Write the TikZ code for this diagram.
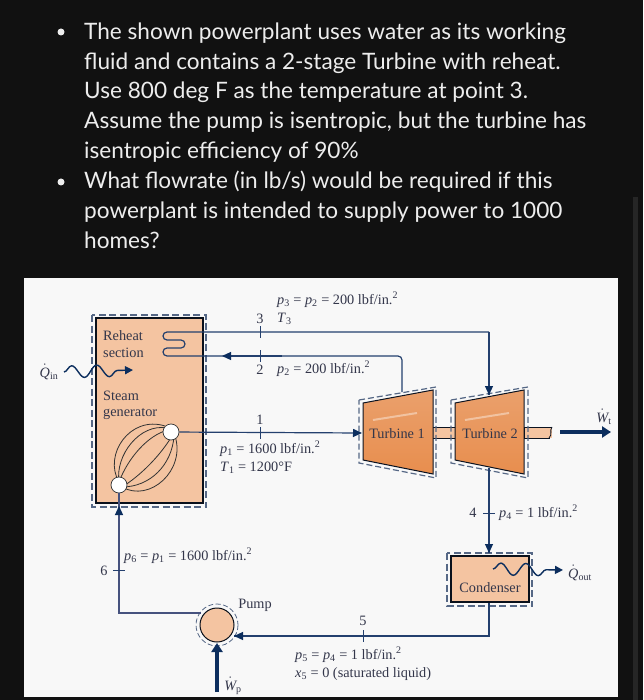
\documentclass[tikz,border=0pt]{standalone}
\usepackage{fontspec}
\setmainfont{Liberation Serif}
\newfontfamily\latofont{Lato}
\usetikzlibrary{arrows.meta,decorations.pathmorphing}
\definecolor{pagebg}{HTML}{111111}
\definecolor{panelink}{HTML}{33364A}
\definecolor{pipeblue}{HTML}{24406E}
\definecolor{feedblue}{HTML}{46527E}
\definecolor{tipblue}{HTML}{0C2E5E}
\definecolor{dashblue}{HTML}{566886}
\definecolor{unitfill}{HTML}{F4C4A1}
\definecolor{turbtop}{HTML}{EAA06C}
\definecolor{turbmid}{HTML}{EFAE80}
\definecolor{turbbot}{HTML}{E88E4E}
\newcommand{\pvar}[1]{\textit{p}\textsubscript{#1}}
\newcommand{\dotvar}[2]{$\dot{\mathit{#1}}$\textsubscript{#2}}
\newcommand{\unitpsi}{lbf/in.\textsuperscript{2}}
\tikzset{
  bodytext/.style={font=\latofont\fontsize{22.6}{30}\selectfont,text=white!93!black,anchor=base west,inner sep=0pt},
  bulletdot/.style={circle,fill=white!93!black,inner sep=0pt,minimum size=7pt},
  lbl/.style={font=\fontsize{14.3}{16}\selectfont,text=panelink,inner sep=0pt,anchor=base},
  lblw/.style={lbl,anchor=base west},
  unitbox/.style={fill=unitfill,draw=black!75!pipeblue,line width=1.1pt},
  dashbox/.style={draw=dashblue,line width=1.2pt,dash pattern=on 7pt off 3.5pt},
  pipe/.style={draw=pipeblue,line width=1.2pt},
  tick/.style={draw=pipeblue,line width=1pt},
  pipearrow/.style={pipe,-{Triangle[length=9pt,width=8pt,color=tipblue]}},
  powerarrow/.style={draw=tipblue,line width=3.8pt,-{Triangle[length=9pt,width=11pt]}},
  heatwave/.style={draw=tipblue,line width=1.4pt,decorate,
    decoration={snake,segment length=25pt,amplitude=6pt,post length=7pt}},
  turbine/.style={draw=black!70!pipeblue,line width=1pt,top color=turbtop,middle color=turbmid,bottom color=turbbot},
  gleam/.style={draw=white,opacity=0.4,line width=2pt},
  bundle/.style={draw=black!80,line width=0.8pt},
  header/.style={circle,fill=white,draw=black!80,line width=0.7pt,minimum size=16pt,inner sep=0pt},
}
\begin{document}
\begin{tikzpicture}[x=1pt,y=-1pt]
  \useasboundingbox (0,0) rectangle (643,700);
  \fill[pagebg] (0,0) rectangle (643,700);
  \fill[white!97!pagebg] (24,278) rectangle (618,697);
  \fill[black!85] (633,197) rectangle (638,700);
  % question text
  \node[bulletdot] (dota) at (61,32) {};
  \node[bulletdot] (dotb) at (61,182) {};
  \node[bodytext] (linea) at (84,40) {The shown powerplant uses water as its working};
  \node[bodytext] (lineb) at (84,69.5) {fluid and contains a 2-stage Turbine with reheat.};
  \node[bodytext] (linec) at (84,99) {Use 800 deg F as the temperature at point 3.};
  \node[bodytext] (lined) at (84,129) {Assume the pump is isentropic, but the turbine has};
  \node[bodytext] (linee) at (84,159) {isentropic efficiency of 90\%};
  \node[bodytext] (linef) at (84,189) {What flowrate (in lb/s) would be required if this};
  \node[bodytext] (lineg) at (84,219) {powerplant is intended to supply power to 1000};
  \node[bodytext] (lineh) at (84,249) {homes?};
  % steam generator
  \path[unitbox] (96,318) rectangle (203,503);
  \draw[dashbox] (92,315) rectangle (206,507);
  \node[lblw] (reheat) at (103,340) {Reheat};
  \node[lblw] (section) at (103,357) {section};
  \node[lblw] (steam) at (103,400) {Steam};
  \node[lblw] (generator) at (103,416) {generator};
  \draw[bundle] (119,482) .. controls (103,455) and (130,415) .. (165,426);
  \draw[bundle] (119,482) .. controls (115,455) and (140,423) .. (167,428);
  \draw[bundle] (119,482) .. controls (128,458) and (148,435) .. (168,430);
  \draw[bundle] (122,487) .. controls (150,503) and (186,470) .. (175,436);
  \draw[bundle] (122,487) .. controls (150,487) and (172,465) .. (174,436);
  \draw[bundle] (122,487) .. controls (140,476) and (160,456) .. (172,436);
  \node[header] (drumtop) at (171,432) {};
  \node[header] (drumlow) at (119,485) {};
  % turbines
  \fill[unitfill] (432,427) rectangle (455,438);
  \fill[unitfill] (524,427) rectangle (552,438);
  \draw[black!70!pipeblue,line width=0.8pt] (432,427) -- (455,427) (432,438) -- (455,438);
  \draw[black!70!pipeblue,line width=0.8pt] (552,427) -- (524,427) -- (524,438) -- (550,438);
  \draw[black!70!pipeblue,line width=0.8pt] (552,427) .. controls (549,431) and (553,434) .. (549,438);
  \path[turbine] (363,403) -- (433,390) -- (433,474) -- (363,460) -- cycle;
  \path[turbine] (455,403) -- (524,390) -- (524,474) -- (455,460) -- cycle;
  \draw[gleam] (373,420) -- (417,413);
  \draw[gleam] (465,420) -- (509,413);
  \draw[dashbox,dash pattern=on 6pt off 3pt] (359,400) -- (436,387) -- (436,478) -- (359,463) -- cycle;
  \draw[dashbox,dash pattern=on 6pt off 3pt] (451,400) -- (528,387) -- (528,478) -- (451,463) -- cycle;
  \node[lbl] (turba) at (397,438) {Turbine 1};
  \node[lbl] (turbb) at (490,438) {Turbine 2};
  % condenser and pump
  \path[unitbox] (451,556) rectangle (529,602);
  \draw[dashbox] (447,553) rectangle (532,606);
  \node[lbl] (condenser) at (490,592) {Condenser};
  \node[circle,fill=unitfill,draw=black!75!pipeblue,line width=1pt,minimum size=34pt,inner sep=0pt] (pump) at (217,625) {};
  \draw[dashbox,line width=0.8pt,dash pattern=on 5pt off 2.5pt] (pump.center) circle (21);
  \node[lbl] (pumplbl) at (255,608) {Pump};
  % named ends of the pipes
  \coordinate (rha) at (163,332);
  \coordinate (rhb) at (163,356);
  \coordinate (tipa) at (222,356);
  \coordinate (ta) at (402,392);
  \coordinate (tb) at (489,395);
  \coordinate (elbowa) at (402,356);
  \coordinate (elbowb) at (489,332);
  \coordinate (inta) at (362,433);
  \coordinate (outb) at (489,468);
  \coordinate (condin) at (489,553);
  \coordinate (condout) at (489,603);
  \coordinate (elbowc) at (489,636);
  \coordinate (pumpin) at (234,636);
  \coordinate (pumpout) at (201,613);
  \coordinate (elbowd) at (119,613);
  \coordinate (bundlein) at (119,506);
  % pipes
  \draw[pipe,rounded corners=4pt] (elbowb) -- (rha) -- (163,340) -- (185,340) -- (185,348) -- (163,348) -- (rhb) -- (elbowa) -- (ta);
  \draw[pipe] (elbowb) -- (tb);
  \draw[pipearrow] (489,362) -- (tb);
  \draw[pipearrow] (282,356) -- (tipa);
  \draw[pipearrow] (drumtop) -- (inta);
  \draw[pipe] (outb) -- (condin);
  \draw[pipearrow] (489,520) -- (condin);
  \draw[pipe] (condout) -- (elbowc) -- (pumpin);
  \draw[pipearrow] (300,636) -- (pumpin);
  \draw[pipe,draw=feedblue] (pumpout) -- (elbowd) -- (drumlow);
  \draw[pipearrow,draw=feedblue] (119,530) -- (bundlein);
  % state ticks
  \draw[tick] (260,326) -- (260,338);
  \draw[tick] (260,350) -- (260,362);
  \draw[tick] (260,427) -- (260,439);
  \draw[tick] (483,513) -- (495,513);
  \draw[tick] (363,630) -- (363,642);
  \draw[tick] (113,570) -- (125,570);
  \node[lbl] (st) at (260,323) {3};
  \node[lbl] (sb) at (260,374) {2};
  \node[lbl] (sa) at (260,424) {1};
  \node[lbl] (sd) at (473,517) {4};
  \node[lbl] (se) at (363,625) {5};
  \node[lbl] (sf) at (104,575) {6};
  % state data
  \node[lblw] (dataa) at (277,304) {\pvar{3} = \pvar{2} = 200 \unitpsi};
  \node[lblw] (datab) at (277,322) {\textit{T}\textsubscript{3}};
  \node[lblw] (datac) at (277,373) {\pvar{2} = 200 \unitpsi};
  \node[lblw] (datad) at (220,453) {\pvar{1} = 1600 \unitpsi};
  \node[lblw] (datae) at (220,471) {\textit{T}\textsubscript{1} = 1200°F};
  \node[lblw] (dataf) at (499,517) {\pvar{4} = 1 \unitpsi};
  \node[lblw] (datag) at (124,560) {\pvar{6} = \pvar{1} = 1600 \unitpsi};
  \node[lblw] (datah) at (295,659) {\pvar{5} = \pvar{4} = 1 \unitpsi};
  \node[lblw] (datai) at (295,677) {\textit{x}\textsubscript{5} = 0 (saturated liquid)};
  % work and heat
  \coordinate (wta) at (560,432);
  \coordinate (wtb) at (611,432);
  \coordinate (wpa) at (217,692);
  \coordinate (wpb) at (217,643);
  \draw[powerarrow] (wta) -- (wtb);
  \draw[powerarrow] (wpa) -- (wpb);
  \coordinate (qia) at (64,372);
  \coordinate (qib) at (133,370);
  \coordinate (qoa) at (493,569);
  \coordinate (qob) at (563,570);
  \draw[heatwave,-{Triangle[length=8pt,width=8pt]}] (qia) -- (qib);
  \draw[heatwave,-{Triangle[length=8pt,width=8pt]}] (qoa) -- (qob);
  \node[lbl] (qin) at (49,377) {\dotvar{Q}{in}};
  \node[lbl] (qout) at (580,578) {\dotvar{Q}{out}};
  \node[lbl] (wt) at (604,422) {\dotvar{W}{t}};
  \node[lbl] (wp) at (233,690) {\dotvar{W}{p}};
\end{tikzpicture}
\end{document}
